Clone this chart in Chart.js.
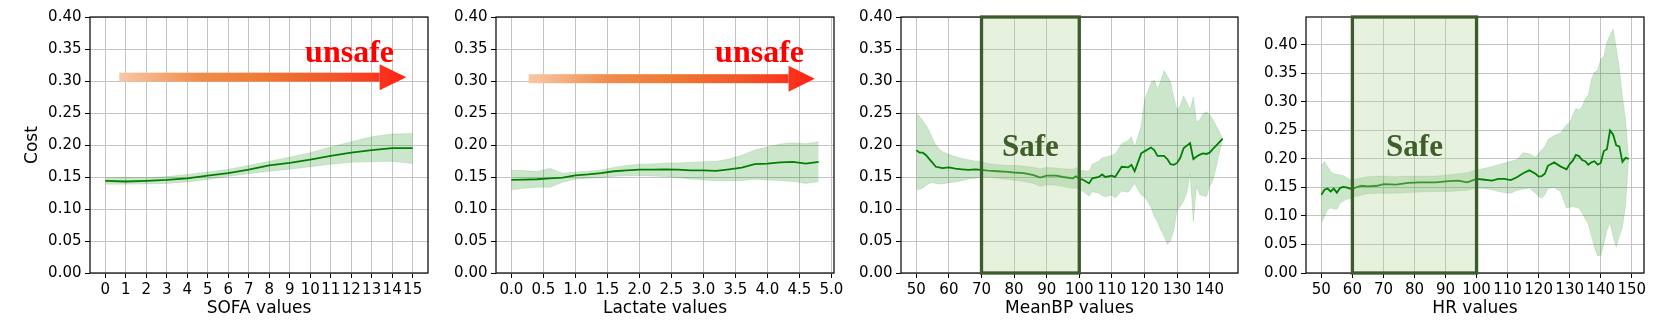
<!DOCTYPE html>
<html>
<head>
<meta charset="utf-8">
<script src="https://cdn.jsdelivr.net/npm/chart.js@4.4.1/dist/chart.umd.min.js"></script>
<style>
  html, body { margin: 0; padding: 0; background: #fff; }
  #wrap { position: relative; width: 1660px; height: 328px; overflow: hidden; }
  canvas { position: absolute; top: 0; }
</style>
</head>
<body>
<div id="wrap">
  <canvas id="c1" width="440" height="328" style="left:0px"></canvas>
  <canvas id="c2" width="410" height="328" style="left:440px"></canvas>
  <canvas id="c3" width="400" height="328" style="left:850px"></canvas>
  <canvas id="c4" width="410" height="328" style="left:1250px"></canvas>
</div>
<script>
// ---- data ----
const costTicks = [0, 0.05, 0.10, 0.15, 0.20, 0.25, 0.30, 0.35, 0.40];

const sofaX = [0, 1, 2, 3, 4, 5, 6, 7, 8, 9, 10, 11, 12, 13, 14, 15];
const sofaMean = [0.144, 0.143, 0.144, 0.1455, 0.148, 0.152, 0.156, 0.1616, 0.168, 0.172, 0.177, 0.183, 0.188, 0.192, 0.195, 0.195];
const sofaUpper = [0.149, 0.1496, 0.149, 0.1506, 0.154, 0.158, 0.162, 0.168, 0.1745, 0.181, 0.188, 0.197, 0.205, 0.213, 0.217, 0.218];
const sofaLower = [0.1387, 0.1387, 0.139, 0.140, 0.142, 0.146, 0.151, 0.155, 0.159, 0.162, 0.166, 0.170, 0.173, 0.174, 0.1745, 0.171];
const sofaTicks = [0, 1, 2, 3, 4, 5, 6, 7, 8, 9, 10, 11, 12, 13, 14, 15];

const lacX = [0, 0.2, 0.4, 0.6, 0.8, 1.0, 1.2, 1.4, 1.6, 1.8, 2.0, 2.2, 2.4, 2.6, 2.8, 3.0, 3.2, 3.4, 3.6, 3.8, 4.0, 4.2, 4.4, 4.6, 4.8];
const lacMean = [0.1455, 0.146, 0.1465, 0.148, 0.149, 0.1527, 0.154, 0.156, 0.159, 0.1605, 0.1616, 0.1616, 0.162, 0.1616, 0.1605, 0.1605, 0.1595, 0.162, 0.1647, 0.170, 0.171, 0.173, 0.1735, 0.171, 0.1735];
const lacUpper = [0.1605, 0.160, 0.1584, 0.1636, 0.156, 0.158, 0.159, 0.161, 0.165, 0.168, 0.170, 0.1705, 0.172, 0.172, 0.173, 0.174, 0.1745, 0.178, 0.184, 0.192, 0.197, 0.2016, 0.2036, 0.202, 0.205];
const lacLower = [0.130, 0.1325, 0.134, 0.134, 0.1418, 0.1465, 0.148, 0.149, 0.151, 0.152, 0.152, 0.1516, 0.1506, 0.149, 0.147, 0.1455, 0.144, 0.144, 0.1444, 0.1465, 0.1455, 0.1444, 0.1429, 0.140, 0.1429];
const lacTicks = [0, 0.5, 1.0, 1.5, 2.0, 2.5, 3.0, 3.5, 4.0, 4.5, 5.0];

const bpX = [50, 51, 52, 53, 54, 55, 56, 57, 58, 60, 62, 64, 66, 68, 70, 72, 75, 78, 80, 83, 86, 88, 90, 93, 95, 98, 99, 100, 101, 103, 104, 106, 107, 108, 110, 111, 113, 115, 116, 117, 119, 120, 122, 123, 124, 125, 126, 127, 128, 129, 130, 131, 132, 133, 134, 135, 136, 137, 138, 139, 140, 141, 142, 144];
const bpMean = [0.192, 0.188, 0.188, 0.184, 0.178, 0.172, 0.166, 0.165, 0.164, 0.165, 0.163, 0.162, 0.161, 0.162, 0.161, 0.160, 0.159, 0.158, 0.157, 0.156, 0.153, 0.149, 0.152, 0.152, 0.150, 0.148, 0.151, 0.147, 0.146, 0.140, 0.148, 0.150, 0.154, 0.150, 0.152, 0.150, 0.166, 0.165, 0.169, 0.159, 0.187, 0.190, 0.196, 0.192, 0.183, 0.183, 0.183, 0.178, 0.170, 0.169, 0.172, 0.180, 0.195, 0.199, 0.203, 0.178, 0.182, 0.185, 0.187, 0.186, 0.188, 0.194, 0.199, 0.210];
const bpUpper = [0.250, 0.245, 0.238, 0.231, 0.222, 0.210, 0.200, 0.194, 0.190, 0.185, 0.182, 0.179, 0.177, 0.175, 0.174, 0.171, 0.169, 0.168, 0.168, 0.167, 0.165, 0.163, 0.165, 0.164, 0.163, 0.162, 0.165, 0.161, 0.160, 0.159, 0.170, 0.175, 0.180, 0.181, 0.184, 0.186, 0.202, 0.207, 0.213, 0.197, 0.230, 0.270, 0.297, 0.302, 0.288, 0.300, 0.316, 0.308, 0.299, 0.275, 0.255, 0.262, 0.277, 0.266, 0.255, 0.275, 0.236, 0.240, 0.249, 0.252, 0.248, 0.240, 0.230, 0.210];
const bpLower = [0.130, 0.131, 0.133, 0.137, 0.140, 0.141, 0.140, 0.139, 0.139, 0.141, 0.142, 0.144, 0.147, 0.148, 0.150, 0.150, 0.148, 0.146, 0.145, 0.143, 0.140, 0.135, 0.138, 0.137, 0.135, 0.132, 0.133, 0.130, 0.128, 0.120, 0.127, 0.125, 0.121, 0.119, 0.122, 0.117, 0.128, 0.126, 0.133, 0.140, 0.122, 0.119, 0.103, 0.088, 0.080, 0.067, 0.058, 0.045, 0.050, 0.067, 0.098, 0.104, 0.112, 0.125, 0.155, 0.080, 0.135, 0.122, 0.121, 0.119, 0.135, 0.145, 0.165, 0.210];
const bpTicks = [50, 60, 70, 80, 90, 100, 110, 120, 130, 140];

const hrX = [50, 51, 52, 53, 54, 55, 56, 57, 58, 60, 61, 63, 65, 68, 70, 74, 78, 82, 87, 91, 94, 97, 100, 102, 105, 107, 109, 111, 113, 115, 117, 119, 120, 121, 122, 123, 125, 127, 129, 130, 131, 132, 133, 134, 135, 136, 137, 138, 139, 140, 141, 142, 143, 144, 145, 146, 147, 148, 149];
const hrMean = [0.137, 0.146, 0.148, 0.143, 0.148, 0.141, 0.149, 0.151, 0.150, 0.147, 0.150, 0.153, 0.152, 0.153, 0.156, 0.155, 0.158, 0.159, 0.159, 0.161, 0.162, 0.159, 0.165, 0.164, 0.162, 0.165, 0.165, 0.163, 0.168, 0.175, 0.180, 0.174, 0.169, 0.170, 0.174, 0.188, 0.194, 0.187, 0.182, 0.191, 0.197, 0.207, 0.205, 0.198, 0.196, 0.190, 0.194, 0.196, 0.190, 0.193, 0.214, 0.217, 0.250, 0.243, 0.224, 0.222, 0.195, 0.202, 0.200];
const hrUpper = [0.187, 0.196, 0.187, 0.178, 0.174, 0.173, 0.172, 0.171, 0.168, 0.162, 0.165, 0.167, 0.169, 0.170, 0.170, 0.169, 0.170, 0.170, 0.170, 0.172, 0.174, 0.176, 0.181, 0.183, 0.187, 0.190, 0.193, 0.196, 0.199, 0.211, 0.209, 0.203, 0.210, 0.216, 0.222, 0.234, 0.241, 0.245, 0.260, 0.263, 0.277, 0.289, 0.286, 0.292, 0.305, 0.312, 0.340, 0.352, 0.355, 0.375, 0.380, 0.405, 0.418, 0.428, 0.395, 0.360, 0.310, 0.270, 0.200];
const hrLower = [0.088, 0.099, 0.111, 0.114, 0.112, 0.112, 0.122, 0.126, 0.129, 0.131, 0.134, 0.137, 0.139, 0.140, 0.140, 0.140, 0.141, 0.142, 0.143, 0.143, 0.144, 0.145, 0.149, 0.148, 0.146, 0.143, 0.141, 0.140, 0.145, 0.147, 0.149, 0.140, 0.134, 0.131, 0.137, 0.148, 0.150, 0.143, 0.114, 0.115, 0.117, 0.115, 0.114, 0.105, 0.095, 0.086, 0.065, 0.045, 0.030, 0.031, 0.050, 0.075, 0.088, 0.064, 0.045, 0.065, 0.080, 0.118, 0.200];
const hrTicks = [50, 60, 70, 80, 90, 100, 110, 120, 130, 140, 150];

Chart.defaults.font.family = "'DejaVu Sans', sans-serif";
Chart.defaults.color = '#000';

const SERIF = "'Liberation Serif', 'Times New Roman', serif";

function pts(xs, ys) {
    return xs.map((x, i) => ({ x: x, y: ys[i] }));
}

function drawArrow(chart, a) {
    const ctx = chart.ctx;
    const xs = chart.scales.x, ys = chart.scales.y;
    const x0 = xs.getPixelForValue(a.from);
    const x1 = xs.getPixelForValue(a.to);
    const xh = xs.getPixelForValue(a.head);
    const y = ys.getPixelForValue(a.y);
    const g = ctx.createLinearGradient(x0, 0, x1, 0);
    g.addColorStop(0, '#f8c8a6');
    g.addColorStop(0.28, '#f08c4c');
    g.addColorStop(0.5, '#ee7a34');
    g.addColorStop(0.75, '#f2552a');
    g.addColorStop(1, '#ff2216');
    ctx.save();
    ctx.fillStyle = g;
    ctx.fillRect(x0, y - 4.5, xh - x0, 9);
    ctx.beginPath();
    ctx.moveTo(xh, y - 13);
    ctx.lineTo(x1, y);
    ctx.lineTo(xh, y + 13);
    ctx.closePath();
    ctx.fill();
    ctx.restore();
}

function drawLabel(chart, t) {
    const ctx = chart.ctx;
    ctx.save();
    ctx.font = 'bold ' + t.size + 'px ' + SERIF;
    ctx.fillStyle = t.color;
    ctx.textAlign = 'center';
    ctx.textBaseline = 'alphabetic';
    ctx.fillText(t.text, chart.scales.x.getPixelForValue(t.x), chart.scales.y.getPixelForValue(t.y));
    ctx.restore();
}

function drawSafeBox(chart, b) {
    const ctx = chart.ctx;
    const area = chart.chartArea;
    const l = chart.scales.x.getPixelForValue(b.from);
    const r = chart.scales.x.getPixelForValue(b.to);
    ctx.save();
    ctx.fillStyle = 'rgba(172, 208, 145, 0.3)';
    ctx.fillRect(l, area.top, r - l, area.bottom - area.top);
    ctx.strokeStyle = '#3d5c2b';
    ctx.lineWidth = 3.3;
    ctx.strokeRect(l, area.top, r - l, area.bottom - area.top);
    ctx.restore();
}

const decorPlugin = {
    id: 'decor',
    afterDatasetsDraw(chart, args, opts) {
        const area = chart.chartArea;
        const ctx = chart.ctx;
        ctx.save();
        ctx.strokeStyle = '#000';
        ctx.lineWidth = 1.2;
        ctx.strokeRect(area.left, area.top, area.right - area.left, area.bottom - area.top);
        ctx.restore();
        if (opts.box) drawSafeBox(chart, opts.box);
        if (opts.arrow) drawArrow(chart, opts.arrow);
        if (opts.label) drawLabel(chart, opts.label);
    }
};

function makePanel(id, p) {
    new Chart(document.getElementById(id), {
        type: 'line',
        data: {
            datasets: [
                {
                    data: pts(p.xs, p.mean),
                    borderColor: '#008000',
                    borderWidth: 1.8,
                    pointRadius: 0,
                    fill: false
                },
                {
                    data: pts(p.xs, p.lower),
                    borderColor: 'rgba(0,128,0,0.12)',
                    borderWidth: 1,
                    pointRadius: 0,
                    fill: false
                },
                {
                    data: pts(p.xs, p.upper),
                    borderColor: 'rgba(0,128,0,0.12)',
                    borderWidth: 1,
                    pointRadius: 0,
                    backgroundColor: 'rgba(0,128,0,0.2)',
                    fill: '-1'
                }
            ]
        },
        options: {
            responsive: false,
            animation: false,
            layout: { padding: { top: 17, right: p.padRight, left: 0, bottom: 0 } },
            plugins: {
                legend: { display: false },
                tooltip: { enabled: false },
                decor: p.decor
            },
            scales: {
                x: {
                    type: 'linear',
                    min: p.xMin,
                    max: p.xMax,
                    afterBuildTicks: (s) => { s.ticks = p.xTicks.map(v => ({ value: v })); },
                    afterFit: (s) => { s.height = 55; },
                    ticks: {
                        autoSkip: false,
                        maxRotation: 0,
                        minRotation: 0,
                        padding: 3,
                        font: { size: 15 },
                        callback: p.xFmt
                    },
                    grid: { color: '#c4c4c4', lineWidth: 1, tickColor: '#000', tickLength: 5, tickWidth: 1 },
                    border: { display: false },
                    title: { display: true, text: p.xTitle, font: { size: 17 }, padding: { top: 0, bottom: 9 } }
                },
                y: {
                    type: 'linear',
                    min: 0,
                    max: p.yMax,
                    afterBuildTicks: (s) => { s.ticks = costTicks.map(v => ({ value: v })); },
                    afterFit: (s) => { s.width = p.yWidth; },
                    ticks: {
                        padding: 3.5,
                        font: { size: 15 },
                        callback: (v) => v.toFixed(2)
                    },
                    grid: { color: '#c4c4c4', lineWidth: 1, tickColor: '#000', tickLength: 5, tickWidth: 1 },
                    border: { display: false },
                    title: { display: !!p.yTitle, text: p.yTitle || '', font: { size: 17 }, padding: { top: 22, bottom: 0 } }
                }
            }
        },
        plugins: [decorPlugin]
    });
}

makePanel('c1', {
    xs: sofaX, mean: sofaMean, lower: sofaLower, upper: sofaUpper,
    xMin: -0.75, xMax: 15.75, xTicks: sofaTicks, xFmt: (v) => String(v),
    yMax: 0.4, xTitle: 'SOFA values', yTitle: 'Cost', yWidth: 90, padRight: 12,
    decor: {
        arrow: { from: 0.68, to: 14.69, head: 13.39, y: 0.306 },
        label: { text: 'unsafe', x: 11.92, y: 0.33, size: 32, color: '#ff0000' }
    }
});

makePanel('c2', {
    xs: lacX, mean: lacMean, lower: lacLower, upper: lacUpper,
    xMin: -0.24, xMax: 5.04, xTicks: lacTicks, xFmt: (v) => v.toFixed(1),
    yMax: 0.4, xTitle: 'Lactate values', yWidth: 56, padRight: 16,
    decor: {
        arrow: { from: 0.27, to: 4.74, head: 4.33, y: 0.3036 },
        label: { text: 'unsafe', x: 3.877, y: 0.329, size: 32, color: '#ff0000' }
    }
});

makePanel('c3', {
    xs: bpX, mean: bpMean, lower: bpLower, upper: bpUpper,
    xMin: 45.3, xMax: 148.7, xTicks: bpTicks, xFmt: (v) => String(v),
    yMax: 0.4, xTitle: 'MeanBP values', yWidth: 51, padRight: 12,
    decor: {
        box: { from: 70, to: 100 },
        label: { text: 'Safe', x: 85, y: 0.183, size: 31, color: '#3f5f2a' }
    }
});

makePanel('c4', {
    xs: hrX, mean: hrMean, lower: hrLower, upper: hrUpper,
    xMin: 45.05, xMax: 153.95, xTicks: hrTicks, xFmt: (v) => String(v),
    yMax: 0.449, xTitle: 'HR values', yWidth: 56, padRight: 16,
    decor: {
        box: { from: 60, to: 100 },
        label: { text: 'Safe', x: 80, y: 0.2055, size: 31, color: '#3f5f2a' }
    }
});
</script>
</body>
</html>
